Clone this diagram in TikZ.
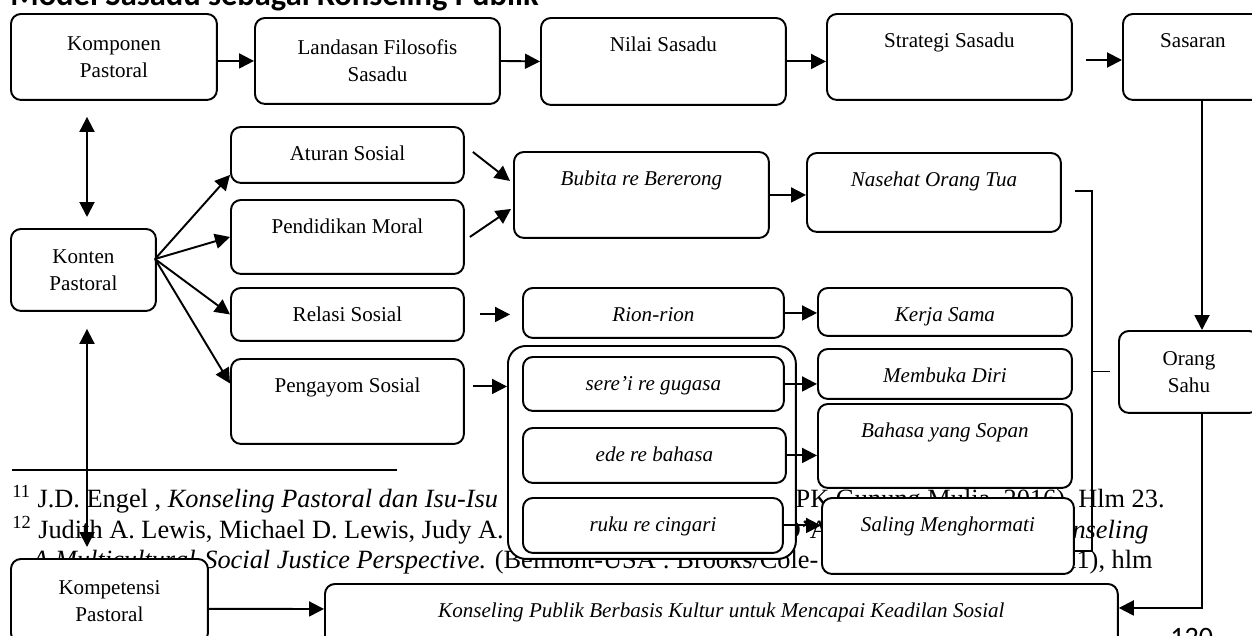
\documentclass[tikz,border=0pt]{standalone}
\usepackage{fontspec}
\setmainfont{Liberation Serif}
\newfontfamily\judulfont{Carlito}
\usetikzlibrary{arrows.meta}

\tikzset{
  kotak/.style={draw, line width=1.1pt, rounded corners=0.2cm, fill=white,
    anchor=north west, inner sep=0pt, font=\fontsize{12}{15.5}\selectfont},
  kotakdua/.style={kotak, align=center},
  kotakatas/.style={kotak, text height=0.68cm, text depth=#1},
  miring/.style={font=\fontsize{12}{15.5}\selectfont\itshape},
  panah/.style={-{Triangle[length=0.3cm,width=0.3cm]}, line width=1.1pt},
  panahdua/.style={{Triangle[length=0.3cm,width=0.3cm]}-{Triangle[length=0.3cm,width=0.3cm]}, line width=1.1pt},
  garis/.style={line width=0.6pt},
  catatan/.style={inner sep=0pt, font=\fontsize{15}{17.4}\selectfont},
}

\begin{document}
\begin{tikzpicture}[x=0.02cm,y=-0.02cm]
\useasboundingbox (0,0) rectangle (1252,636);
\begin{scope}
\clip (0,0) rectangle (1252,636);
\fill[white] (0,0) rectangle (1252,636);

% judul dan catatan kaki halaman
\node[anchor=base west, inner sep=0pt, font=\judulfont\bfseries\fontsize{18.5}{20}\selectfont] (judul) at (10,5) {Model Sasadu sebagai Konseling Publik};
\draw[line width=1.1pt] (12,470) -- (397,470);
\node[catatan, anchor=base west] (cat11a) at (12,507) {\textsuperscript{11} J.D. Engel , \textit{Konseling Pastoral dan Isu-Isu}};
\node[catatan, anchor=base east] (cat11b) at (1165,507) {(Jakarta: BPK Gunung Mulia, 2016), Hlm 23.};
\node[catatan, anchor=base west] (cat12a) at (12,538) {\textsuperscript{12} Judith A. Lewis, Michael D. Lewis, Judy A.};
\node[catatan, anchor=base east] (cat12b) at (1149,538) {Daniels, Michael J. D’Andrea, \textit{Community Counseling}};
\node[catatan, anchor=base west] (cat12c) at (32,568) {\textit{A Multicultural-Social Justice Perspective.} (Belmont-USA : Brooks/Cole-};
\node[catatan, anchor=base east] (cat12d) at (1153,568) {Cengage Learning, 2011), hlm};
\node[anchor=base west, inner sep=0pt, font=\judulfont\fontsize{16}{18}\selectfont] (halaman) at (1170,646) {120};

% kotak
\node[kotakdua, minimum width=4.12cm, minimum height=1.72cm] (komponen) at (10,13) {Komponen\\Pastoral};
\node[kotakdua, minimum width=4.90cm, minimum height=1.72cm] (landasan) at (254,17) {Landasan Filosofis\\Sasadu};
\node[kotakatas=1.06cm, minimum width=4.90cm] (nilai) at (540,17) {Nilai Sasadu};
\node[kotakatas=1.04cm, minimum width=4.90cm] (strategi) at (826,13) {Strategi Sasadu};
\node[kotakatas=1.04cm, minimum width=2.80cm] (sasaran) at (1122,13) {Sasaran};
\node[kotakatas=0.44cm, minimum width=4.66cm] (aturan) at (230,126) {Aturan Sosial};
\node[kotakatas=0.80cm, minimum width=4.66cm] (pendidikan) at (230,199) {Pendidikan Moral};
\node[kotakatas=1.04cm, miring, minimum width=5.10cm] (bubita) at (513,151) {Bubita re Bererong};
\node[kotakatas=0.90cm, miring, minimum width=5.08cm] (nasehat) at (806,152) {Nasehat Orang Tua};
\node[kotakdua, minimum width=2.90cm, minimum height=1.64cm] (konten) at (10,228) {Konten\\Pastoral};
\node[kotakatas=0.38cm, minimum width=4.66cm] (relasi) at (230,287) {Relasi Sosial};
\node[kotakatas=0.32cm, miring, minimum width=5.22cm] (rion) at (522,287) {Rion-rion};
\node[kotakatas=0.28cm, miring, minimum width=5.08cm] (kerja) at (817,287) {Kerja Sama};
\node[kotakatas=1.02cm, minimum width=4.66cm] (pengayom) at (230,358) {Pengayom Sosial};
\node[kotak, rounded corners=0.36cm, minimum width=5.76cm, minimum height=4.26cm] (grup) at (507,345) {};
\node[kotakatas=0.40cm, miring, minimum width=5.22cm] (serei) at (522,356) {sere’i re gugasa};
\node[kotakatas=0.42cm, miring, minimum width=5.26cm] (ede) at (522,427) {ede re bahasa};
\node[kotakatas=0.42cm, miring, minimum width=5.20cm] (ruku) at (522,497) {ruku re cingari};
\node[kotakatas=0.32cm, miring, minimum width=5.08cm] (membuka) at (817,348) {Membuka Diri};
\node[kotakatas=1.00cm, miring, minimum width=5.08cm] (bahasa) at (817,403) {Bahasa yang Sopan};
\node[kotakatas=0.84cm, miring, minimum width=5.04cm] (saling) at (821,497) {Saling Menghormati};
\node[kotakdua, minimum width=2.80cm, minimum height=1.64cm] (orang) at (1118,330) {Orang\\Sahu};
\node[kotakdua, minimum width=3.94cm, minimum height=1.68cm] (kompetensi) at (10,558) {Kompetensi\\Pastoral};
\node[kotakatas=0.56cm, miring, minimum width=15.86cm] (konseling) at (324,583) {Konseling Publik Berbasis Kultur untuk Mencapai Keadilan Sosial};

% titik bantu
\coordinate (kfan) at (155,259);
\coordinate (jalur) at (1202,0);
\coordinate (kolom) at (87,0);
\coordinate (ujungstrategi) at (1086,60);
\coordinate (kurungA) at (1075,191);
\coordinate (kurungB) at (1092,551);

% panah
\draw[panah] (komponen.east |- landasan) -- (landasan.west);
\draw[panah] (landasan.east) -- (nilai.west);
\draw[panah] (nilai.east) -- (nilai.east -| strategi.west);
\draw[panah] (ujungstrategi) -- (ujungstrategi -| sasaran.west);
\draw[panah] (sasaran.south -| jalur) -- (orang.north -| jalur);
\draw[panah] (orang.south -| jalur) |- ([yshift=0.14cm]konseling.east);
\draw[panah] ([yshift=-0.16cm]kompetensi.east) -- ([yshift=0.12cm]konseling.west);
\draw[panahdua, shorten <=0.32cm, shorten >=0.22cm] (komponen.south -| kolom) -- (konten.north -| kolom);
\draw[panahdua, shorten <=0.34cm, shorten >=0.22cm] (konten.south -| kolom) -- (kompetensi.north -| kolom);
\path[panah] (kfan) edge ([yshift=0.18cm]aturan.south west)
                    edge (pendidikan.west)
                    edge (relasi.west)
                    edge ([yshift=0.36cm]pengayom.west);
\draw[panah] ([xshift=0.16cm,yshift=0.06cm]aturan.east) -- ([xshift=-0.06cm,yshift=0.28cm]bubita.west);
\draw[panah] ([xshift=0.1cm]pendidikan.east) -- ([xshift=-0.04cm,yshift=-0.28cm]bubita.west);
\draw[panah] (bubita.east) -- (bubita.east -| nasehat.west);
\draw[panah, shorten <=0.3cm, shorten >=0.24cm] (relasi.east) -- (relasi.east -| rion.west);
\draw[panah] (rion.east) -- (rion.east -| kerja.west);
\draw[panah, shorten <=0.16cm] ([yshift=0.3cm]pengayom.east) -- ([yshift=0.3cm]pengayom.east -| grup.west);
\draw[panah] (serei.east) -- (serei.east -| membuka.west);
\draw[panah] (ede.east) -- (ede.east -| bahasa.west);
\draw[panah] (ruku.east) -- (ruku.east -| saling.west);

% kurung ke Orang Sahu
\draw[garis] (kurungA) -| (kurungB) -- (kurungB -| saling.east);
\draw[garis] (kurungB |- orang.west) -- ([xshift=-0.16cm]orang.west);
\end{scope}
\end{tikzpicture}
\end{document}
